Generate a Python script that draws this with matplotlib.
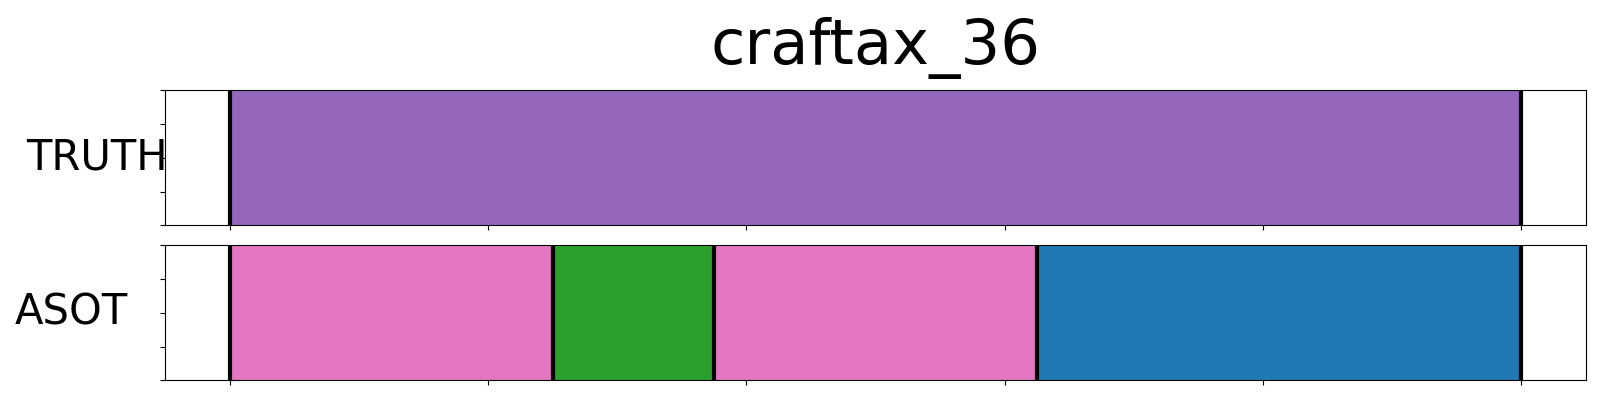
import matplotlib
matplotlib.use("Agg")
import matplotlib.pyplot as plt
import numpy as np

title = "craftax_36"
rows = ["TRUTH", "ASOT"]
total_len = 100
truth_bounds = [0, 100]
truth_colors = ["#9467bd"]
asot_bounds = [0, 25, 37.5, 62.5, 100]
asot_colors = ["#e377c2", "#2ca02c", "#e377c2", "#1f77b4"]
label_x = [-0.048, -0.066]

fig = plt.figure(figsize=(16, 4), dpi=100)
ax1 = fig.add_axes([0.1033, 0.4368, 0.8878, 0.3375])
ax2 = fig.add_axes([0.1033, 0.0493, 0.8878, 0.3375])

for ax, bounds, colors, name, lx in zip([ax1, ax2], [truth_bounds, asot_bounds],
                                        [truth_colors, asot_colors], rows, label_x):
    for i, c in enumerate(colors):
        ax.axvspan(bounds[i], bounds[i + 1], ymin=0, ymax=1, color=c, lw=0)
    for b in bounds:
        ax.axvline(b, color="black", lw=3)
    ax.set_xlim(-0.05 * total_len, 1.05 * total_len)
    ax.set_ylim(0, 1)
    ax.set_xticks(np.linspace(0, total_len, 6))
    ax.set_xticklabels([])
    ax.set_yticks([0, 0.25, 0.5, 0.75, 1.0])
    ax.set_yticklabels([])
    ax.set_ylabel(name, rotation=0, fontsize=30, ha="center", va="center")
    ax.yaxis.set_label_coords(lx, 0.5)

ax1.set_title(title, fontsize=45, pad=19)

fig.savefig("out.png", dpi=100)
